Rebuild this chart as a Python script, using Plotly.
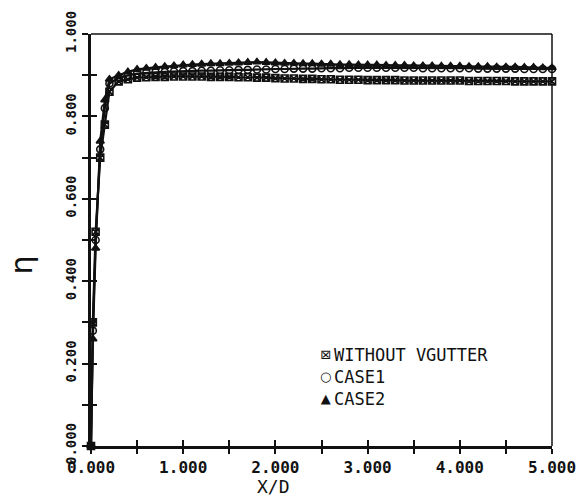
import plotly.graph_objects as go

# Axial position X/D
x_d = [0.0, 0.02, 0.05, 0.1, 0.15, 0.2,
       0.3, 0.4, 0.5, 0.6, 0.7, 0.8, 0.9, 1.0,
       1.1, 1.2, 1.3, 1.4, 1.5, 1.6, 1.7, 1.8, 1.9, 2.0,
       2.1, 2.2, 2.3, 2.4, 2.5, 2.6, 2.7, 2.8, 2.9, 3.0,
       3.1, 3.2, 3.3, 3.4, 3.5, 3.6, 3.7, 3.8, 3.9, 4.0,
       4.1, 4.2, 4.3, 4.4, 4.5, 4.6, 4.7, 4.8, 4.9, 5.0]

eta_without = [0.000, 0.300, 0.520, 0.700, 0.780, 0.860,
               0.885, 0.890, 0.894, 0.895, 0.896, 0.896, 0.897, 0.897,
               0.897, 0.897, 0.896, 0.896, 0.896, 0.895, 0.895, 0.894, 0.894, 0.893,
               0.892, 0.892, 0.891, 0.891, 0.890, 0.890, 0.889, 0.889, 0.889, 0.888,
               0.888, 0.888, 0.888, 0.887, 0.887, 0.887, 0.887, 0.887, 0.887, 0.887,
               0.886, 0.886, 0.886, 0.886, 0.886, 0.885, 0.885, 0.885, 0.885, 0.885]

eta_case1 = [0.000, 0.280, 0.500, 0.720, 0.820, 0.880,
             0.893, 0.900, 0.904, 0.906, 0.907, 0.908, 0.909, 0.910,
             0.910, 0.911, 0.911, 0.912, 0.912, 0.913, 0.913, 0.914, 0.914, 0.915,
             0.915, 0.916, 0.916, 0.916, 0.917, 0.917, 0.917, 0.918, 0.918, 0.918,
             0.918, 0.918, 0.918, 0.918, 0.918, 0.917, 0.917, 0.917, 0.917, 0.917,
             0.917, 0.916, 0.916, 0.916, 0.916, 0.916, 0.915, 0.915, 0.915, 0.915]

eta_case2 = [0.000, 0.260, 0.480, 0.740, 0.840, 0.890,
             0.900, 0.908, 0.914, 0.917, 0.919, 0.921, 0.923, 0.925,
             0.926, 0.927, 0.928, 0.928, 0.929, 0.930, 0.931, 0.932, 0.931, 0.930,
             0.929, 0.929, 0.928, 0.928, 0.927, 0.927, 0.926, 0.926, 0.925, 0.925,
             0.925, 0.924, 0.924, 0.924, 0.923, 0.923, 0.923, 0.922, 0.922, 0.922,
             0.921, 0.921, 0.921, 0.920, 0.920, 0.920, 0.919, 0.919, 0.918, 0.918]

series_names = ["WITHOUT VGUTTER", "CASE1", "CASE2"]
series_values = [eta_without, eta_case1, eta_case2]
series_symbols = ["square-x-open", "circle-open", "triangle-up"]
legend_glyphs = ["⊠", "○", "▲"]

x_tickvals = [0, 0.5, 1, 1.5, 2, 2.5, 3, 3.5, 4, 4.5, 5]
x_ticktext = ["0.000", "", "1.000", "", "2.000", "", "3.000", "", "4.000", "", "5.000"]
y_tickvals = [0, 0.1, 0.2, 0.3, 0.4, 0.5, 0.6, 0.7, 0.8, 0.9, 1.0]
y_ticktext = ["0.000", "", "0.200", "", "0.400", "", "0.600", "", "0.800", "", "1.000"]

INK = "#111111"
MONO = "DejaVu Sans Mono"

fig = go.Figure()

for name, vals, sym in zip(series_names, series_values, series_symbols):
    fig.add_trace(go.Scatter(
        x=x_d, y=vals, mode="lines+markers", name=name, showlegend=False,
        line=dict(color=INK, width=2.2),
        marker=dict(symbol=sym, size=7, color=INK, line=dict(color=INK, width=1.6)),
        cliponaxis=False,
    ))

# overlay axes giving inward tick marks so ticks cross the axis lines
fig.add_trace(go.Scatter(x=[None], y=[None], xaxis="x2", yaxis="y2",
                         showlegend=False, hoverinfo="skip"))

# legend drawn as two text blocks (symbols, names) inside the plot
glyph_text = "<br>".join(f'<span style="font-size:13px">{g}</span>' for g in legend_glyphs)
legend_annotations = [
    dict(xref="paper", yref="paper", x=0.508, y=0.168, xanchor="center", yanchor="middle",
         text=glyph_text, showarrow=False, align="center",
         font=dict(family="DejaVu Sans", size=17, color=INK)),
    dict(xref="paper", yref="paper", x=0.522, y=0.168, xanchor="left", yanchor="middle",
         text="<br>".join(series_names), showarrow=False, align="left",
         font=dict(family=MONO, size=17, color=INK)),
]

axis_titles = [
    dict(xref="paper", yref="paper", x=-0.15, y=0.44, xanchor="center", yanchor="middle",
         text="η", textangle=-90, showarrow=False,
         font=dict(family="DejaVu Sans", size=30, color=INK)),
    dict(xref="paper", yref="paper", x=0.395, y=-0.0995, xanchor="center", yanchor="middle",
         text="X/D", showarrow=False,
         font=dict(family=MONO, size=18, color=INK)),
]

fig.update_layout(
    width=576, height=500,
    margin=dict(l=91, r=24, t=34, b=54),
    paper_bgcolor="white", plot_bgcolor="white",
    font=dict(family=MONO, color=INK),
    showlegend=False,
    xaxis=dict(
        range=[0, 5], tickvals=x_tickvals, ticktext=x_ticktext,
        ticks="outside", ticklen=5, tickwidth=2, tickcolor=INK,
        showline=True, linewidth=3, linecolor=INK,
        showgrid=False, zeroline=False, automargin=False,
        ticklabeloverflow="allow",
        tickfont=dict(family=MONO, size=16, weight="bold"),
    ),
    yaxis=dict(
        range=[0, 1], tickvals=y_tickvals, ticktext=y_ticktext,
        ticks="outside", ticklen=6, tickwidth=2, tickcolor=INK,
        showline=True, linewidth=3, linecolor=INK,
        showgrid=False, zeroline=False, tickangle=-90, automargin=False,
        ticklabeloverflow="allow",
        tickfont=dict(family=MONO, size=14, weight="bold"),
    ),
    xaxis2=dict(
        overlaying="x", anchor="y2", side="bottom", range=[0, 5],
        tickvals=x_tickvals, ticks="inside", ticklen=6, tickwidth=2,
        tickcolor=INK, showticklabels=False, showline=False,
        showgrid=False, zeroline=False, automargin=False,
    ),
    yaxis2=dict(
        overlaying="y", anchor="x2", side="left", range=[0, 1],
        tickvals=y_tickvals, ticks="inside", ticklen=6, tickwidth=2,
        tickcolor=INK, showticklabels=False, showline=False,
        showgrid=False, zeroline=False, automargin=False,
    ),
    annotations=legend_annotations + axis_titles,
    shapes=[
        dict(type="line", xref="paper", yref="paper", x0=0, x1=1, y0=1, y1=1,
             line=dict(color=INK, width=1.5)),
        dict(type="line", xref="paper", yref="paper", x0=1, x1=1, y0=0, y1=1,
             line=dict(color=INK, width=1.5)),
    ],
)

fig.write_html("out.html")
